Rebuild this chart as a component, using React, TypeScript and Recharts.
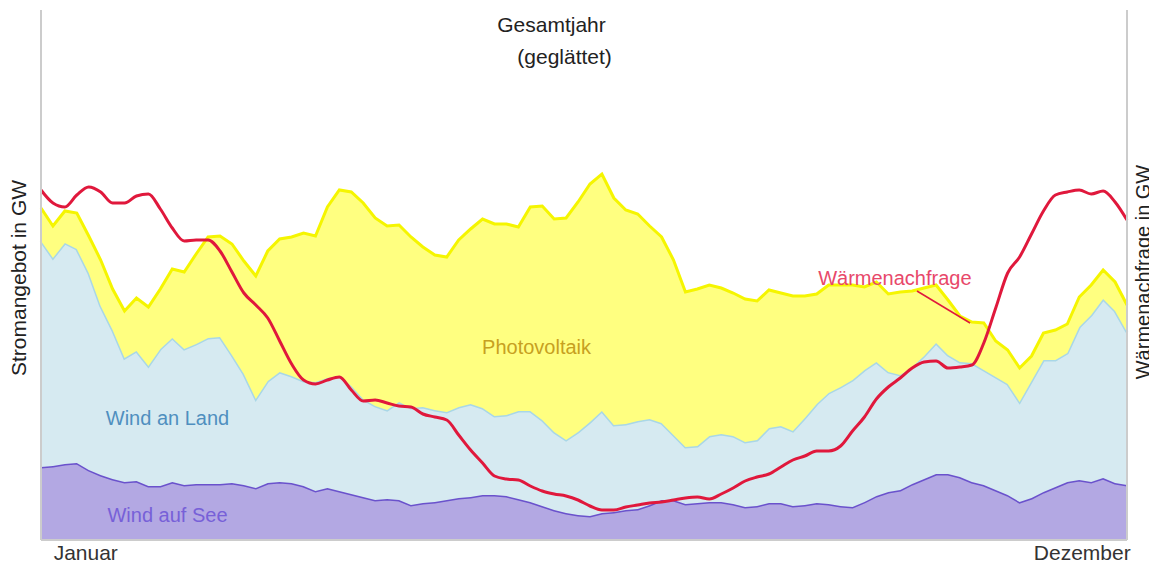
import {
  ComposedChart,
  Area,
  Line,
  XAxis,
  YAxis,
  ReferenceDot,
  ReferenceLine,
} from "recharts";

// day of year (every 4th day)
const days = [
  1, 5, 9, 13, 17, 21, 25, 29, 33, 37, 41, 45, 49, 53, 57, 61, 65, 69, 73, 77,
  81, 85, 89, 93, 97, 101, 105, 109, 113, 117, 121, 125, 129, 133, 137, 141,
  145, 149, 153, 157, 161, 165, 169, 173, 177, 181, 185, 189, 193, 197, 201,
  205, 209, 213, 217, 221, 225, 229, 233, 237, 241, 245, 249, 253, 257, 261,
  265, 269, 273, 277, 281, 285, 289, 293, 297, 301, 305, 309, 313, 317, 321,
  325, 329, 333, 337, 341, 345, 349, 353, 357, 361, 365,
];

// GW, smoothed
const windAufSee = [
  36.5, 37, 38, 38.5, 35, 32.5, 30.5, 29, 29.5, 27,
  27, 29, 27.5, 28, 28, 28, 28.5, 27.5, 26, 28.5,
  29, 28.5, 27, 24.5, 26, 24.5, 23, 21.5, 20, 20.5,
  20, 17.5, 18.5, 19, 20, 21, 21.5, 22.5, 22.5, 22,
  20.5, 19, 17, 15, 13.5, 12.5, 12, 13.5, 14, 15,
  15.5, 17.5, 20, 20, 18, 18.5, 19, 19, 18, 16.5,
  17, 18.5, 18.5, 17, 17.5, 18.5, 18, 17, 16.5, 19,
  22, 24, 25, 28, 30.5, 33, 33, 31.5, 29, 27.5,
  25, 22.5, 19, 21, 24, 26.5, 29, 30, 29, 31,
  28.5, 27.5,
];

const windAnLand = [
  113, 104, 110.5, 107, 98.5, 84.5, 74.5, 62, 65, 60,
  68.5, 72, 68, 70, 73, 73.5, 64, 55.5, 44.5, 51,
  55, 53.5, 52.5, 54.5, 55, 57.5, 54, 49, 47, 44.5,
  49, 48.5, 48, 46, 44, 45.5, 46.5, 43.5, 39.5, 40.5,
  44, 45.5, 43, 39, 36.5, 41.5, 47, 51, 43.5, 43,
  44, 43, 38.5, 32.5, 28.5, 28.5, 33, 34, 34, 32.5,
  33, 37.5, 38.5, 37.5, 43.5, 49.5, 55.5, 59.5, 63.5, 66,
  67, 60, 57.5, 58.5, 61.5, 65.5, 59.5, 57.5, 59.5, 57.5,
  56.5, 55.5, 50, 58.5, 66, 63.5, 64.5, 76.5, 83.5, 89.5,
  86, 76.5,
];

const photovoltaik = [
  16.5, 16, 16, 18, 18.5, 23, 20.5, 23.5, 26.5, 29.5,
  30, 34.5, 38.5, 45, 50.5, 50.5, 55.5, 56.5, 61.5, 65,
  66.5, 69.5, 74, 73, 85.5, 93, 97, 98, 94, 92,
  88.5, 85.5, 80, 77.5, 77.5, 83.5, 87.5, 94.5, 96, 95.5,
  92, 102, 107, 106.5, 111, 115, 119, 118.5, 113.5, 107,
  103.5, 96.5, 93, 87.5, 77.5, 78.5, 75.5, 73, 71.5, 71.5,
  69.5, 69, 66.5, 67.5, 61, 55, 54, 51, 47.5, 41.5,
  40, 39, 41.5, 38, 34, 29, 27.5, 23, 20.5, 23.5,
  18, 17, 17, 12.5, 13.5, 15, 14.5, 15, 15, 14.5,
  14.5, 13.5,
];

const waermenachfrage = [
  175, 168.5, 166.5, 172.5, 176.5, 174, 168.5, 168.5, 172, 173,
  165.5, 156, 149.5, 150, 150, 144.5, 134, 123.5, 117.5, 111,
  99.5, 88, 80, 78, 80, 81.5, 75, 69.5, 70, 68.5,
  67, 66.5, 63, 61.5, 60, 52.5, 45, 38.5, 32, 30.5,
  30, 27, 24.5, 23, 22, 20, 17, 15, 15, 16.5,
  17.5, 18.5, 19, 20, 21, 21.5, 20.5, 23, 26, 29.5,
  31.5, 33, 36.5, 40, 42, 44.5, 44.5, 47, 54.5, 61.5,
  70.5, 76.5, 81, 86, 89, 89.5, 86, 86.5, 87.5, 98.5,
  116, 133.5, 141.5, 153, 164.5, 172.5, 174, 175, 173, 174.5,
  169, 160,
];

const monthTicks = [16, 350];
const monthNames = ["Januar", "Dezember"];

const data = days.map((day, i) => ({
  day,
  see: windAufSee[i],
  land: windAnLand[i],
  pv: photovoltaik[i],
  heat: waermenachfrage[i],
}));

const axisColor = "#cccccc";

export default function App() {
  // negative margins cancel the body margin so the chart fills the window
  return (
    <div
      style={{
        width: 1157,
        height: 571,
        margin: -8,
        fontFamily: "Arial, 'Liberation Sans', sans-serif",
      }}
    >
      <ComposedChart
        width={1157}
        height={571}
        data={data}
        margin={{ top: 10, right: 0, bottom: 0, left: 0 }}
      >
        <XAxis
          dataKey="day"
          type="number"
          domain={[1, 365]}
          ticks={monthTicks}
          tickFormatter={(v) => monthNames[monthTicks.indexOf(v)] ?? ""}
          tickLine={false}
          tickSize={5}
          tickMargin={0}
          height={31}
          axisLine={{ stroke: axisColor, strokeWidth: 2 }}
          tick={{ fill: "#333", fontSize: 21 }}
        />
        <YAxis
          yAxisId="left"
          domain={[0, 265]}
          width={41}
          tick={false}
          tickLine={false}
          axisLine={{ stroke: axisColor, strokeWidth: 2 }}
          label={{
            value: "Stromangebot in GW",
            angle: -90,
            position: "center",
            dx: -2,
            dy: 3,
            fill: "#222",
            fontSize: 21,
          }}
        />
        <YAxis
          yAxisId="right"
          orientation="right"
          domain={[0, 265]}
          width={30}
          tick={false}
          tickLine={false}
          axisLine={{ stroke: axisColor, strokeWidth: 2 }}
          label={{
            value: "Wärmenachfrage in GW",
            angle: -90,
            position: "center",
            dx: 1,
            dy: -3,
            fill: "#222",
            fontSize: 20,
          }}
        />
        <Area
          yAxisId="left"
          type="linear"
          dataKey="see"
          stackId="strom"
          stroke="#6a52cc"
          strokeWidth={3}
          fill="#b3a8e3"
          fillOpacity={1}
          isAnimationActive={false}
        />
        <Area
          yAxisId="left"
          type="linear"
          dataKey="land"
          stackId="strom"
          stroke="#a9d7e7"
          strokeWidth={3}
          fill="#d6eaf1"
          fillOpacity={1}
          isAnimationActive={false}
        />
        <Area
          yAxisId="left"
          type="linear"
          dataKey="pv"
          stackId="strom"
          stroke="#f5f500"
          strokeWidth={3}
          fill="#ffff80"
          fillOpacity={1}
          isAnimationActive={false}
        />
        <Line
          yAxisId="right"
          type="monotone"
          dataKey="heat"
          stroke="#e0183c"
          strokeWidth={3}
          dot={false}
          isAnimationActive={false}
        />
        <ReferenceLine
          yAxisId="left"
          segment={[
            { x: 294.6, y: 124.5 },
            { x: 312.4, y: 108.5 },
          ]}
          stroke="#e0183c"
          strokeWidth={1.5}
        />
        <ReferenceDot
          yAxisId="left"
          x={172.1}
          y={257.5}
          r={0}
          stroke="none"
          fill="none"
          label={{ value: "Gesamtjahr", position: "center", fill: "#222", fontSize: 21 }}
        />
        <ReferenceDot
          yAxisId="left"
          x={176.5}
          y={241.5}
          r={0}
          stroke="none"
          fill="none"
          label={{ value: "(geglättet)", position: "center", fill: "#222", fontSize: 21 }}
        />
        <ReferenceDot
          yAxisId="left"
          x={167.1}
          y={96.5}
          r={0}
          stroke="none"
          fill="none"
          label={{ value: "Photovoltaik", position: "center", fill: "#c7a020", fontSize: 20 }}
        />
        <ReferenceDot
          yAxisId="left"
          x={43.4}
          y={61.25}
          r={0}
          stroke="none"
          fill="none"
          label={{ value: "Wind an Land", position: "center", fill: "#4f8fbf", fontSize: 20 }}
        />
        <ReferenceDot
          yAxisId="left"
          x={43.4}
          y={12.5}
          r={0}
          stroke="none"
          fill="none"
          label={{ value: "Wind auf See", position: "center", fill: "#7760d8", fontSize: 20 }}
        />
        <ReferenceDot
          yAxisId="left"
          x={287.2}
          y={131}
          r={0}
          stroke="none"
          fill="none"
          label={{ value: "Wärmenachfrage", position: "center", fill: "#e8486a", fontSize: 20 }}
        />
      </ComposedChart>
    </div>
  );
}
